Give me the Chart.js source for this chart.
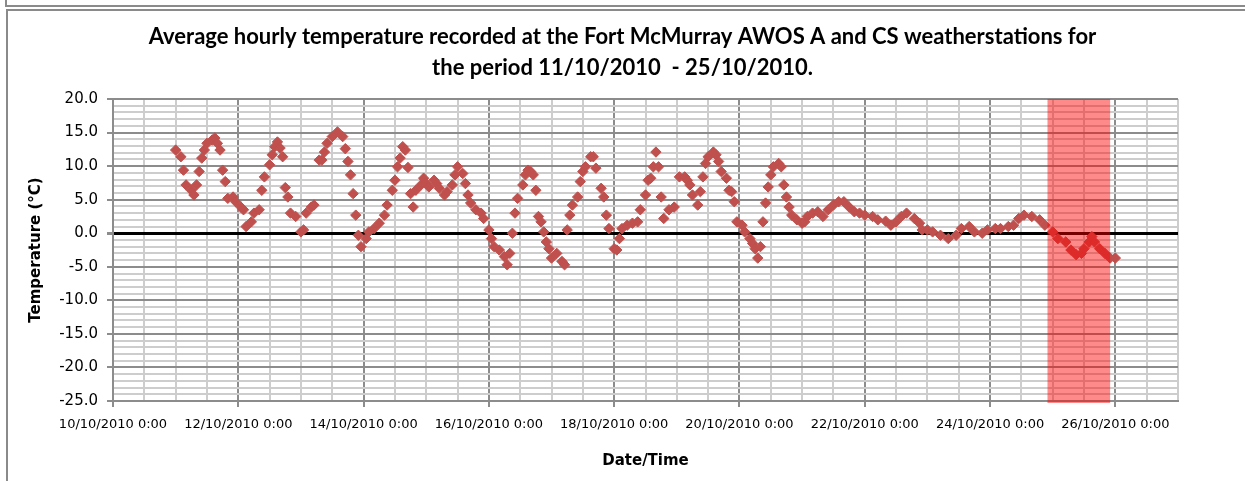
<!DOCTYPE html>
<html lang="en">
<head>
    <meta charset="UTF-8">
    <title>Fort McMurray hourly temperature</title>
    <style>
        html, body { margin: 0; padding: 0; background: #fff; overflow: hidden; }
        #topBox { position: absolute; left: 5px; top: -5px; width: 1300px; height: 8px; border: 2px solid #8a8a8a; }
        #frame { position: absolute; left: 6px; top: 9px; width: 1300px; height: 600px; border-left: 2px solid #8a8a8a; border-top: 2px solid #8a8a8a; }
        #chartBox { position: absolute; left: 0; top: 0; width: 1245px; height: 481px; }
    </style>
    <script src="https://cdn.jsdelivr.net/npm/chart.js"></script>
</head>
<body>
    <div id="topBox"></div>
    <div id="frame"></div>
    <div id="chartBox"><canvas id="tempChart" width="1245" height="481"></canvas></div>

    <script>
        // hours counted from 10/10/2010 0:00, temperatures in °C
        const obsHours = [
            24, 26, 27, 28, 30, 31, 32, 33, 34, 35, 36, 38, 39, 40, 41, 42, 43, 44, 46, 47,
            49, 50, 51, 53, 54, 56, 57, 58, 60, 61, 62, 63, 64, 65, 66, 67, 68, 70, 72, 73,
            74, 76, 77, 79, 80, 81, 82, 84, 86, 88, 89, 90, 91, 92, 93, 94, 95, 97, 98, 100,
            102, 104, 105, 107, 108, 109, 110, 111, 112, 113, 114, 115, 116, 118, 119, 120, 121, 123, 124, 125,
            127, 128, 130, 131, 132, 134, 135, 136, 137, 139, 141, 142, 144, 145, 146, 148, 150, 151, 152, 153,
            154, 155, 157, 158, 159, 160, 161, 162, 163, 164, 165, 166, 167, 168, 170, 172, 173, 174, 175, 176,
            178, 179, 180, 181, 183, 184, 185, 187, 188, 189, 190, 192, 193, 194, 195, 197, 199, 201, 202, 204,
            205, 206, 207, 208, 209, 210, 211, 213, 215, 217, 219, 220, 221, 222, 224, 225, 226, 227, 228, 230,
            231, 232, 233, 235, 236, 237, 238, 239, 241, 242, 244, 245, 246, 247, 248, 249, 250, 251, 252, 253,
            255, 256, 257, 258, 259, 260, 262, 264, 265, 266, 268, 270, 272, 274, 276, 278, 280, 282, 284, 286,
            288, 291, 293, 296, 298, 300, 302, 304, 307, 309, 310, 312, 314, 317, 320, 323, 325, 328, 330, 333,
            335, 338, 340, 343, 345, 347, 349, 352, 355, 357, 360, 362, 365, 367, 369, 371, 372, 374, 375, 376,
            378, 380, 382, 384
        ];
        const obsTemps = [
            12.4, 11.4, 9.4, 7.2, 6.4, 5.7, 7.2, 9.2, 11.2, 12.4, 13.4, 13.9, 14.2, 13.4, 12.4, 9.4, 7.7, 5.2, 5.4, 4.7,
            3.9, 3.5, 1.0, 1.7, 3.0, 3.5, 6.4, 8.4, 10.2, 11.7, 12.9, 13.6, 12.7, 11.4, 6.8, 5.4, 3.0, 2.5, 0.2, 0.5,
            3.0, 3.9, 4.2, 10.9, 10.9, 12.1, 13.4, 14.4, 15.1, 14.4, 12.6, 10.7, 8.7, 5.9, 2.7, -0.3, -2.0, -0.8, 0.2, 0.7,
            1.5, 2.7, 4.2, 6.4, 7.9, 9.9, 11.2, 12.9, 12.4, 9.8, 5.9, 3.9, 6.4, 7.2, 8.2, 7.4, 6.9, 7.9, 7.4, 6.7,
            5.7, 6.2, 7.2, 8.7, 9.9, 8.9, 7.4, 5.7, 4.5, 3.5, 3.0, 2.2, 0.5, -0.8, -2.0, -2.5, -3.5, -4.7, -3.0, 0.0,
            3.0, 5.2, 7.2, 8.7, 9.4, 9.2, 8.7, 6.4, 2.5, 1.7, 0.2, -1.3, -2.3, -3.7, -3.0, -4.2, -4.7, 0.5, 2.7, 4.2,
            5.4, 7.7, 9.2, 9.9, 11.4, 11.4, 9.7, 6.7, 5.4, 2.7, 0.7, -2.3, -2.5, -0.8, 0.7, 1.2, 1.5, 1.7, 3.5, 5.7,
            7.9, 8.2, 9.9, 12.1, 9.9, 5.4, 2.2, 3.5, 3.9, 8.4, 8.4, 7.9, 7.2, 5.7, 4.2, 6.2, 8.4, 10.4, 11.4, 12.1,
            11.7, 10.7, 9.2, 8.2, 6.4, 6.2, 4.7, 1.7, 1.2, 0.2, -0.8, -1.5, -2.3, -3.7, -2.0, 1.7, 4.5, 6.9, 8.7, 9.9,
            10.4, 9.9, 7.2, 5.4, 3.9, 2.7, 2.0, 1.5, 1.7, 2.5, 3.0, 3.2, 2.5, 3.5, 4.2, 4.7, 4.7, 3.9, 3.2, 3.0,
            2.7, 2.5, 2.0, 1.8, 1.2, 1.7, 2.5, 3.0, 2.2, 1.5, 0.5, 0.5, 0.2, -0.3, -0.8, -0.3, 0.7, 1.0, 0.2, 0.0,
            0.5, 0.7, 0.7, 1.0, 1.2, 2.2, 2.7, 2.5, 2.0, 1.2, 0.2, -0.8, -1.3, -2.5, -3.2, -3.0, -2.3, -1.3, -0.5, -1.3,
            -2.3, -3.0, -3.7, -3.7
        ];
        const xTickLabels = [
            '10/10/2010 0:00', '12/10/2010 0:00', '14/10/2010 0:00', '16/10/2010 0:00', '18/10/2010 0:00',
            '20/10/2010 0:00', '22/10/2010 0:00', '24/10/2010 0:00', '26/10/2010 0:00'
        ];
        const highlightHours = [358, 382];

        const majorGrid = '#8c8c8c';
        const minorGrid = '#cdcdcd';

        // red shaded period drawn over the points
        const highlightBand = {
            id: 'highlightBand',
            afterDatasetsDraw(chart) {
                const { ctx, chartArea, scales } = chart;
                const x0 = scales.x.getPixelForValue(highlightHours[0]);
                const x1 = scales.x.getPixelForValue(highlightHours[1]);
                ctx.save();
                ctx.fillStyle = 'rgba(255, 0, 0, 0.46)';
                ctx.fillRect(x0, chartArea.top, x1 - x0, chartArea.bottom - chartArea.top + 2);
                ctx.restore();
            }
        };

        const ctx = document.getElementById('tempChart').getContext('2d');
        new Chart(ctx, {
            type: 'scatter',
            data: {
                datasets: [{
                    label: 'Temperature',
                    data: obsHours.map((h, i) => ({ x: h, y: obsTemps[i] })),
                    showLine: false,
                    pointStyle: 'rectRot',
                    pointRadius: 5.2,
                    pointBackgroundColor: '#C0504D',
                    pointBorderColor: '#C0504D',
                    pointBorderWidth: 1
                }]
            },
            plugins: [highlightBand],
            options: {
                responsive: false,
                animation: false,
                layout: { padding: 0 },
                plugins: {
                    legend: { display: false },
                    tooltip: { enabled: false },
                    title: {
                        display: true,
                        text: [
                            'Average hourly temperature recorded at the Fort McMurray AWOS A and CS weatherstations for',
                            'the period 11/10/2010  - 25/10/2010.'
                        ],
                        color: '#000',
                        font: { family: 'Lato', size: 22, weight: 'bold', lineHeight: 1.41 },
                        padding: { top: 21, bottom: 16 }
                    }
                },
                scales: {
                    x: {
                        type: 'linear',
                        min: 0,
                        max: 408,
                        afterFit: s => { s.height = 80; },
                        border: { color: majorGrid, width: 2 },
                        grid: {
                            color: c => c.tick && c.tick.value % 48 === 0 ? majorGrid : minorGrid,
                            lineWidth: 2,
                            tickColor: c => c.tick && c.tick.value % 48 === 0 ? majorGrid : 'rgba(0,0,0,0)',
                            tickLength: 6
                        },
                        ticks: {
                            stepSize: 12,
                            autoSkip: false,
                            maxRotation: 0,
                            minRotation: 0,
                            padding: 10,
                            color: '#000',
                            font: { family: 'DejaVu Sans', size: 13 },
                            callback: v => v % 48 === 0 ? xTickLabels[v / 48] : ''
                        },
                        title: {
                            display: true,
                            text: 'Date/Time',
                            color: '#000',
                            font: { family: 'DejaVu Sans', size: 15, weight: 'bold' },
                            padding: { top: 0, bottom: 11 }
                        }
                    },
                    y: {
                        min: -25,
                        max: 20,
                        afterFit: s => { s.width = 113; },
                        border: { color: majorGrid, width: 2 },
                        grid: {
                            color: c => {
                                if (!c.tick) return minorGrid;
                                if (c.tick.value === 0) return '#000';
                                return c.tick.value % 5 === 0 ? majorGrid : minorGrid;
                            },
                            lineWidth: c => c.tick && c.tick.value === 0 ? 3 : 2,
                            tickColor: c => c.tick && c.tick.value % 5 === 0 ? majorGrid : 'rgba(0,0,0,0)',
                            tickLength: 6
                        },
                        ticks: {
                            stepSize: 1,
                            autoSkip: false,
                            padding: 9,
                            color: '#000',
                            font: { family: 'DejaVu Sans', size: 15 },
                            callback: v => v % 5 === 0 ? v.toFixed(1) : ''
                        },
                        title: {
                            display: true,
                            text: 'Temperature (°C)',
                            color: '#000',
                            font: { family: 'DejaVu Sans', size: 15, weight: 'bold' },
                            padding: { top: 27, bottom: 0 }
                        }
                    },
                    // empty right-hand margin so the title centres on the whole page
                    rightMargin: {
                        position: 'right',
                        afterFit: s => { s.width = 67; },
                        grid: { display: false, drawOnChartArea: false },
                        border: { display: false },
                        ticks: { display: false }
                    }
                }
            }
        });
    </script>
</body>
</html>
